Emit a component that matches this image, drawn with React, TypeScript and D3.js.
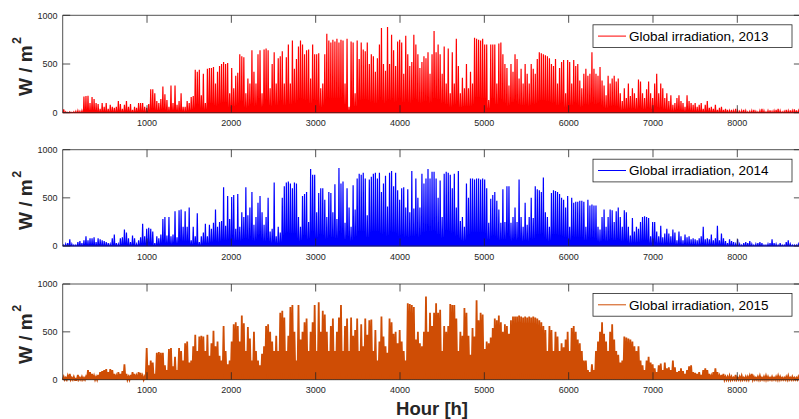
import React from 'react';
import * as d3 from 'd3';

// Daily peak of hourly global irradiation (W/m²), one value per day (365 days)
const irr2013: number[] = [
  35, 10, 5, 8, 5, 10, 15, 20, 15, 20,
  165, 170, 175, 100, 160, 140, 100, 90, 40, 100,
  60, 100, 40, 80, 60, 50, 60, 120, 90, 40,
  80, 120, 60, 90, 30, 60, 50, 100, 100, 100,
  60, 50, 90, 240, 240, 200, 120, 100, 140, 270,
  190, 130, 60, 280, 100, 280, 80, 120, 200, 60,
  60, 120, 100, 160, 170, 440, 420, 440, 180, 400,
  100, 450, 460, 460, 470, 300, 420, 480, 500, 520,
  500, 510, 200, 460, 250, 380, 410, 600, 580, 570,
  200, 350, 300, 640, 420, 300, 600, 640, 200, 650,
  660, 640, 250, 500, 620, 300, 560, 580, 630, 300,
  570, 700, 300, 740, 450, 550, 680, 740, 700, 600,
  640, 650, 350, 700, 600, 600, 610, 250, 300, 600,
  810, 740, 720, 750, 730, 760, 720, 750, 740, 300,
  760, 60, 730, 720, 200, 740, 550, 720, 650, 630,
  720, 500, 600, 580, 420, 560, 700, 870, 500, 430,
  880, 500, 800, 640, 480, 730, 750, 720, 400, 790,
  600, 480, 520, 800, 700, 600, 460, 520, 580, 560,
  620, 400, 600, 840, 620, 700, 600, 400, 680, 300,
  660, 200, 620, 300, 760, 480, 200, 360, 250, 500,
  250, 420, 300, 770, 760, 750, 740, 760, 700, 700,
  130, 700, 700, 700, 300, 710, 720, 600, 500, 460,
  280, 500, 420, 600, 550, 350, 450, 300, 500, 400,
  300, 500, 450, 400, 550, 620, 610, 600, 590, 580,
  560, 500, 480, 550, 300, 460, 520, 540, 200, 540,
  520, 300, 540, 480, 500, 330, 250, 400, 450, 380,
  400, 620, 450, 400, 380, 470, 330, 280, 180, 380,
  300, 350, 380, 320, 350, 200, 120, 250, 150, 300,
  170, 250, 200, 150, 340, 320, 200, 150, 240, 320,
  200, 150, 300, 400, 200, 300, 250, 150, 200, 120,
  180, 80, 100, 150, 180, 120, 100, 60, 180, 120,
  100, 80, 100, 60, 80, 100, 40, 80, 120, 50,
  60, 40, 80, 30, 50, 60, 30, 40, 30, 20,
  30, 20, 40, 20, 15, 20, 30, 20, 10, 15,
  20, 30, 15, 10, 20, 40, 20, 10, 20, 25,
  15, 20, 30, 40, 20, 10, 15, 30, 20, 25,
  20, 35, 25, 20, 30,
];

const irr2014: number[] = [
  10, 20, 30, 70, 20, 10, 10, 40, 50, 30,
  60, 100, 60, 80, 80, 90, 40, 80, 70, 60,
  50, 40, 30, 20, 80, 120, 30, 20, 80, 90,
  170, 140, 80, 40, 110, 80, 20, 60, 90, 230,
  100, 180, 190, 180, 150, 30, 100, 80, 120, 280,
  300, 110, 300, 100, 120, 360, 90, 370, 380, 200,
  360, 200, 400, 60, 200, 100, 340, 40, 100, 140,
  230, 100, 220, 180, 240, 380, 200, 250, 260, 610,
  210, 520, 280, 510, 530, 180, 540, 200, 350, 300,
  610, 320, 400, 560, 220, 300, 450, 520, 350, 220,
  300, 500, 150, 180, 660, 100, 200, 140, 500, 620,
  660, 670, 650, 600, 660, 650, 300, 200, 520, 540,
  560, 250, 800, 740, 740, 350, 550, 600, 600, 480,
  300, 560, 550, 350, 640, 280, 810, 650, 670, 240,
  600, 400, 200, 630, 380, 700, 750, 740, 760, 700,
  320, 690, 720, 750, 760, 700, 760, 560, 650, 730,
  410, 760, 780, 620, 760, 580, 480, 600, 610, 400,
  590, 350, 780, 390, 700, 500, 400, 750, 650, 700,
  800, 700, 770, 770, 700, 500, 680, 300, 750, 770,
  760, 740, 600, 750, 400, 780, 260, 300, 200, 650,
  500, 700, 700, 690, 700, 700, 690, 700, 690, 600,
  240, 490, 530, 560, 470, 380, 240, 590, 250, 620,
  620, 240, 300, 400, 250, 690, 300, 200, 450, 220,
  300, 500, 290, 620, 590, 580, 560, 710, 350, 300,
  200, 550, 580, 570, 560, 540, 500, 480, 400, 520,
  200, 500, 450, 460, 460, 470, 470, 460, 200, 480,
  420, 430, 420, 420, 200, 170, 300, 380, 200, 300,
  380, 370, 250, 360, 400, 300, 200, 370, 350, 200,
  110, 290, 150, 200, 180, 250, 300, 310, 300, 290,
  100, 250, 250, 150, 100, 210, 90, 130, 180, 130,
  100, 170, 140, 60, 150, 100, 60, 120, 90, 100,
  70, 80, 70, 60, 80, 100, 200, 70, 80, 70,
  120, 60, 80, 210, 60, 130, 80, 50, 30, 70,
  50, 40, 20, 70, 20, 10, 30, 40, 30, 50,
  20, 10, 20, 30, 40, 30, 10, 10, 20, 30,
  70, 30, 20, 10, 30, 10, 10, 40, 60, 20,
  10, 10, 10, 20, 10,
];

const irr2015: number[] = [
  30, 20, 40, 60, 20, 30, 10, 50, 20, 30,
  20, 30, 100, 80, 60, 40, 30, 50, 80, 90,
  100, 110, 80, 110, 100, 60, 40, 80, 60, 90,
  160, 60, 30, 50, 80, 60, 40, 80, 70, 40,
  30, 330, 150, 200, 180, 60, 280, 290, 280, 280,
  150, 100, 320, 330, 140, 240, 100, 330, 300, 200,
  380, 400, 180, 200, 350, 470, 300, 450, 460, 450,
  300, 470, 250, 380, 510, 350, 400, 250, 200, 560,
  300, 160, 200, 400, 580, 600, 560, 400, 670, 590,
  300, 550, 430, 200, 500, 300, 200, 150, 270, 350,
  560, 580, 500, 400, 300, 460, 300, 700, 720, 650,
  300, 460, 760, 780, 500, 200, 780, 420, 500, 600,
  640, 300, 500, 600, 780, 300, 810, 500, 720, 680,
  500, 300, 560, 640, 300, 500, 650, 780, 300, 560,
  640, 300, 650, 460, 520, 640, 300, 580, 350, 640,
  470, 620, 630, 300, 520, 200, 400, 660, 450, 350,
  280, 640, 600, 480, 500, 380, 520, 400, 300, 200,
  800, 790, 780, 760, 420, 500, 380, 350, 500, 870,
  500, 700, 560, 700, 800, 700, 730, 300, 560, 500,
  560, 790, 780, 780, 640, 300, 500, 460, 750, 700,
  460, 260, 540, 450, 830, 620, 700, 680, 320, 400,
  380, 440, 540, 640, 620, 670, 600, 500, 580, 560,
  480, 620, 660, 660, 660, 670, 660, 650, 660, 650,
  660, 650, 660, 650, 640, 620, 600, 560, 520, 300,
  560, 520, 300, 500, 450, 300, 380, 340, 420, 500,
  300, 540, 560, 500, 420, 380, 300, 200, 200, 100,
  80, 160, 100, 300, 400, 500, 600, 480, 400, 300,
  500, 580, 420, 300, 260, 180, 200, 450, 440, 430,
  420, 400, 350, 300, 350, 200, 150, 100, 200, 240,
  180, 160, 120, 80, 150, 170, 100, 180, 120, 130,
  100, 200, 130, 80, 90, 120, 90, 60, 100, 140,
  150, 80, 70, 60, 80, 50, 100, 120, 100, 60,
  40, 80, 120, 80, 40, 50, 60, 30, 30, 40,
  30, 20, 50, 20, 30, 40, 20, 30, 30, 40,
  60, 30, 20, 30, 40, 20, 30, 40, 30, 20,
  30, 20, 30, 40, 30, 20, 20, 30, 40, 20,
  30, 20, 20, 30, 20,
];

const seriesNames = ['Global irradiation, 2013', 'Global irradiation, 2014', 'Global irradiation, 2015'];
const xTicks = [1000, 2000, 3000, 4000, 5000, 6000, 7000, 8000];
const yTicks = [0, 500, 1000];
const X_MAX = 8760;
const Y_MAX = 1000;

const W = 799;
const H = 419;
const FONT = '"Liberation Sans", Arial, Helvetica, sans-serif';
const AX = '#262626';
const X0 = 62.7;
const X1 = 801.4;

const panelStyles = [
  { top: 15.3, bottom: 112.7, color: '#ff0000', half: 6, filled: false, sw: 1.2 },
  { top: 149.7, bottom: 246, color: '#0000ff', half: 6, filled: false, sw: 1.2 },
  { top: 284, bottom: 379.7, color: '#cf4d05', half: 12, filled: true, sw: 1.8 },
];
const allData = [irr2013, irr2014, irr2015];

function Panel({ idx }: { idx: number }) {
  const st = panelStyles[idx];
  const data = allData[idx];
  const x = d3.scaleLinear().domain([0, X_MAX]).range([X0, X1]);
  const y = d3.scaleLinear().domain([0, Y_MAX]).range([st.bottom, st.top]);
  const pts: [number, number][] = [[0, 0]];
  data.forEach((v, d) => {
    const c = d * 24 + 12;
    pts.push([c - st.half, 0], [c, v], [c + st.half, 0]);
  });
  pts.push([X_MAX, 0]);
  const line = d3.line<[number, number]>().x((p) => x(p[0])).y((p) => y(p[1]));
  const path = line(pts) || '';
  const tickLen = 7.5;
  const mid = (st.top + st.bottom) / 2;
  const legX = 593;
  const legY = st.top + 9.5;
  return (
    <g>
      <rect x={X0} y={st.top} width={X1 - X0} height={st.bottom - st.top} fill="#fff" />
      <path
        d={path}
        fill={st.filled ? st.color : 'none'}
        stroke={st.color}
        strokeWidth={st.sw}
        strokeLinejoin="miter"
      />
      {/* axes box */}
      <g stroke={AX} strokeWidth={0.8} fill="none">
        <line x1={X0} x2={X1} y1={st.top} y2={st.top} />
        <line x1={X0} x2={X1} y1={st.bottom} y2={st.bottom} />
        <line x1={X0} x2={X0} y1={st.top} y2={st.bottom} />
        <line x1={X1} x2={X1} y1={st.top} y2={st.bottom} />
        {xTicks.map((t) => (
          <g key={'xt' + t}>
            <line x1={x(t)} x2={x(t)} y1={st.top} y2={st.top + tickLen} />
            <line x1={x(t)} x2={x(t)} y1={st.bottom} y2={st.bottom - tickLen} />
          </g>
        ))}
        {yTicks.map((t) => (
          <g key={'yt' + t}>
            <line x1={X0} x2={X0 + tickLen} y1={y(t)} y2={y(t)} />
            <line x1={X1} x2={X1 - tickLen} y1={y(t)} y2={y(t)} />
          </g>
        ))}
      </g>
      {/* tick labels */}
      <g fontFamily={FONT} fontSize={9} fill={AX}>
        {xTicks.map((t) => (
          <text key={'xl' + t} x={x(t)} y={st.bottom + 13.5} textAnchor="middle">
            {t}
          </text>
        ))}
        {yTicks.map((t) => (
          <text key={'yl' + t} x={57.5} y={y(t) + 3.2} textAnchor="end">
            {t}
          </text>
        ))}
      </g>
      {/* y label */}
      <text
        transform={`translate(31.5, ${mid + 2.5}) rotate(-90)`}
        textAnchor="middle"
        fontFamily={FONT}
        fontWeight="bold"
        fontSize={19}
        fill={AX}
      >
        <tspan>W / m</tspan>
        <tspan dx={1.5} dy={-11} fontSize={12.5}>
          2
        </tspan>
      </text>
      {/* legend */}
      <rect x={legX} y={legY} width={199} height={22.7} fill="#fff" stroke={AX} strokeWidth={0.8} />
      <line x1={598} x2={626} y1={legY + 11.3} y2={legY + 11.3} stroke={st.color} strokeWidth={1} />
      <text x={629} y={legY + 16.2} fontFamily={FONT} fontSize={13.5} fill="#000">
        {seriesNames[idx]}
      </text>
    </g>
  );
}

export default function App() {
  return (
    <svg
      width={W}
      height={H}
      viewBox={`0 0 ${W} ${H}`}
      style={{ position: 'absolute', left: 0, top: 0, background: '#fff' }}
    >
      <rect x={0} y={0} width={W} height={H} fill="#fff" />
      {[0, 1, 2].map((i) => (
        <Panel key={i} idx={i} />
      ))}
      <text
        x={(X0 + X1) / 2}
        y={415}
        textAnchor="middle"
        fontFamily={FONT}
        fontWeight="bold"
        fontSize={18.5}
        fill={AX}
      >
        Hour [h]
      </text>
    </svg>
  );
}
